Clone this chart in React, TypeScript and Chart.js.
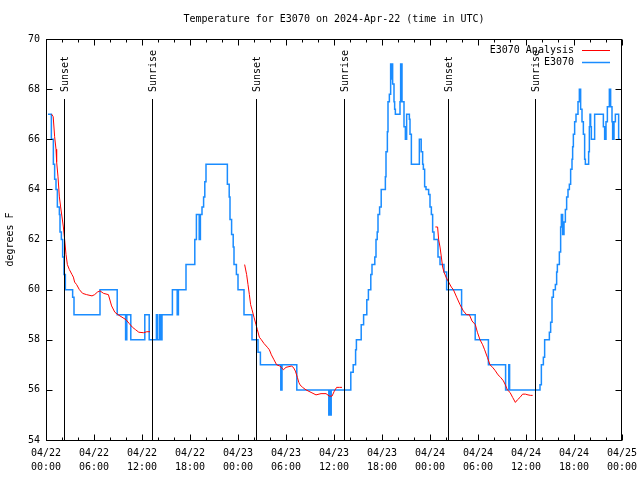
import React, { useEffect, useRef } from "react";
import { Chart, registerables } from "chart.js";

Chart.register(...registerables);

const TITLE = "Temperature for E3070 on 2024-Apr-22 (time in UTC)";
const Y_LABEL = "degrees F";
const SERIES_ANALYSIS = "E3070 Analysis";
const SERIES_OBS = "E3070";

// x axis: hours since 04/22 00:00 UTC
const X_DAYS = ["04/22", "04/22", "04/22", "04/22", "04/23", "04/23", "04/23", "04/23", "04/24", "04/24", "04/24", "04/24", "04/25"];
const X_TIMES = ["00:00", "06:00", "12:00", "18:00", "00:00", "06:00", "12:00", "18:00", "00:00", "06:00", "12:00", "18:00", "00:00"];
const X_MIN = 0;
const X_MAX = 72;
const Y_MIN = 54;
const Y_MAX = 70;

const SUNSET_HOURS = [2.3, 26.3, 50.3];
const SUNRISE_HOURS = [13.25, 37.2, 61.1];

// Observations [hour, °F]
const obsDay1: [number, number][] = [
  [0.25, 67], [0.67, 66], [0.92, 65], [1.08, 64.4], [1.25, 64], [1.42, 63.3], [1.67, 63], [1.75, 62.3],
  [1.92, 62], [2.08, 61.3], [2.25, 60.6], [2.42, 60], [3.33, 59.7], [3.5, 59], [6.75, 60], [8.9, 59],
  [9.95, 58], [10.1, 59], [10.6, 58], [12.35, 59], [12.9, 58], [13.8, 59], [13.95, 58], [14.2, 59],
  [14.35, 58], [14.5, 59], [15.8, 60], [16.4, 59], [16.55, 60], [17.5, 61], [18.6, 62], [18.8, 63],
  [19.15, 62], [19.3, 63], [19.5, 63.3], [19.7, 63.7], [19.85, 64.3], [20.0, 65], [22.67, 64.2],
  [22.9, 63.7], [23.0, 62.8], [23.2, 62.2], [23.4, 61.7], [23.5, 61], [23.8, 60.6], [24.0, 60],
];
const obsDay2: [number, number][] = [
  [24.75, 59], [25.75, 58], [26.5, 57.5], [26.8, 57], [29.35, 56], [29.5, 57], [31.35, 56],
  [35.35, 55], [35.45, 56], [35.55, 55], [35.65, 56], [38.1, 56.7], [38.4, 57], [38.7, 57.6],
  [38.8, 58], [39.4, 58.6], [39.7, 59], [40.1, 59.6], [40.3, 60], [40.6, 60.6], [40.75, 61],
  [41.1, 61.3], [41.25, 62], [41.4, 62.3], [41.5, 63], [41.7, 63.3], [41.9, 64], [42.42, 64.5],
  [42.5, 65.5], [42.67, 66.3], [42.75, 67.5], [42.92, 67.8], [43.08, 69], [43.17, 68.4], [43.25, 69],
  [43.33, 68.2], [43.5, 67.5], [43.58, 67.2], [43.67, 67], [44.25, 67.5], [44.33, 69], [44.5, 67.5],
  [44.75, 66.5], [44.92, 66], [45.08, 67], [45.42, 66.8], [45.5, 66.2], [45.67, 65], [46.67, 66],
  [46.9, 65.5], [47.08, 65], [47.17, 64.8], [47.33, 64.1], [47.5, 64], [47.83, 63.8], [48.0, 63.3],
  [48.17, 63], [48.33, 62.3], [48.5, 62],
];
const obsDay3: [number, number][] = [
  [49.0, 61.3], [49.25, 61], [49.75, 60.7], [50.08, 60], [51.95, 59], [53.65, 58], [55.3, 57],
  [57.45, 56], [57.85, 57], [57.95, 56], [61.75, 56.2], [61.92, 57], [62.17, 57.3], [62.33, 58],
  [62.92, 58.3], [63.08, 58.7], [63.25, 59.7], [63.42, 60], [63.67, 60.2], [63.83, 60.7], [63.92, 61],
  [64.17, 61.5], [64.33, 62.5], [64.42, 63], [64.58, 62.2], [64.75, 62.7], [64.92, 63.2], [65.08, 63.7],
  [65.25, 64], [65.42, 64.2], [65.58, 64.8], [65.75, 65.2], [65.83, 65.7], [65.92, 66.2], [66.08, 66.7],
  [66.25, 67], [66.5, 67.5], [66.67, 68], [66.83, 67.2], [67.0, 66.7], [67.17, 66.2], [67.33, 65.2],
  [67.42, 65], [67.83, 65.5], [67.92, 66.5], [68.0, 67], [68.08, 66.5], [68.17, 66], [68.58, 67],
  [69.67, 66.5], [69.83, 66], [70.0, 66.7], [70.17, 67.3], [70.42, 68], [70.58, 67.3], [70.75, 66.7],
  [70.83, 66], [71.0, 66.7], [71.17, 67], [71.58, 66], [71.75, 66],
];

// Analysis [hour, °F], one segment per night
const anaNight1: [number, number][] = [
  [0.7, 67.0], [0.9, 66.9], [1.08, 66.1], [1.25, 65.6], [1.33, 65.1], [1.5, 64.5], [1.67, 63.7],
  [1.83, 63.3], [2.0, 62.9], [2.17, 62.5], [2.33, 62.0], [2.5, 61.4], [2.67, 61.0], [2.92, 60.8],
  [3.25, 60.6], [3.42, 60.5], [3.58, 60.3], [3.83, 60.2], [4.17, 60.0], [4.58, 59.85], [5.08, 59.8],
  [5.75, 59.75], [6.08, 59.8], [6.42, 59.9], [6.75, 59.95], [7.2, 59.85], [7.8, 59.8], [8.2, 59.35],
  [8.6, 59.1], [9.0, 59.0], [9.5, 58.9], [10.0, 58.8], [10.4, 58.65], [10.8, 58.5], [11.2, 58.4],
  [11.6, 58.3], [12.2, 58.28], [12.6, 58.32], [13.0, 58.32],
];
const anaNight2: [number, number][] = [
  [24.83, 61.0], [25.08, 60.6], [25.25, 60.2], [25.42, 59.8], [25.58, 59.4], [25.75, 59.2], [26.0, 58.9],
  [26.25, 58.6], [26.42, 58.4], [26.67, 58.1], [26.92, 58.0], [27.25, 57.85], [27.67, 57.7], [27.92, 57.6],
  [28.17, 57.4], [28.5, 57.2], [28.83, 57.0], [29.17, 56.96], [29.42, 56.9], [29.67, 56.8], [30.0, 56.9],
  [30.67, 56.95], [30.92, 56.9], [31.17, 56.75], [31.42, 56.5], [31.6, 56.3], [31.75, 56.2], [32.08, 56.1],
  [32.5, 56.0], [33.13, 55.9], [33.75, 55.8], [34.38, 55.85], [35.0, 55.85], [35.42, 55.75], [35.75, 55.75],
  [36.04, 55.95], [36.33, 56.1], [36.67, 56.1], [37.0, 56.1],
];
const anaNight3: [number, number][] = [
  [48.67, 62.5], [48.95, 62.5], [49.08, 62.0], [49.25, 61.7], [49.42, 61.3], [49.58, 60.9], [49.75, 60.7],
  [50.0, 60.5], [50.33, 60.3], [50.67, 60.1], [50.92, 60.0], [51.33, 59.7], [51.75, 59.4], [52.17, 59.15],
  [52.58, 59.0], [52.92, 59.0], [53.25, 58.75], [53.67, 58.6], [53.92, 58.3], [54.25, 58.0], [54.58, 57.8],
  [54.83, 57.6], [55.17, 57.3], [55.5, 57.0], [55.83, 56.9], [56.17, 56.76], [56.5, 56.6], [56.83, 56.5],
  [57.17, 56.36], [57.42, 56.2], [57.67, 56.0], [58.0, 55.9], [58.33, 55.7], [58.67, 55.5], [58.92, 55.6],
  [59.25, 55.7], [59.58, 55.83], [59.92, 55.83], [60.25, 55.8], [60.58, 55.78], [60.83, 55.78],
];

const FONT = "DejaVu Sans Mono";
const RED = "#ff0000";
const BLUE = "#1a8cff";

function toPoints(segments: [number, number][][]) {
  const pts: { x: number; y: number | null }[] = [];
  segments.forEach((seg, i) => {
    if (i > 0) pts.push({ x: seg[0][0] - 0.01, y: null });
    seg.forEach(([h, t]) => pts.push({ x: h, y: t }));
  });
  return pts;
}

const decorPlugin = {
  id: "decor",
  afterDatasetsDraw(chart: any) {
    const { ctx, chartArea, scales } = chart;
    const x = scales.x;
    ctx.save();
    ctx.strokeStyle = "#000";
    ctx.lineWidth = 1;
    ctx.fillStyle = "#000";
    ctx.font = `10px ${FONT}`;
    const drawSun = (hours: number[], label: string) => {
      hours.forEach((h) => {
        const px = Math.round(x.getPixelForValue(h)) + 0.5;
        ctx.beginPath();
        ctx.moveTo(px, 99);
        ctx.lineTo(px, chartArea.bottom);
        ctx.stroke();
        ctx.save();
        ctx.translate(px + 1, 92);
        ctx.rotate(-Math.PI / 2);
        ctx.textAlign = "left";
        ctx.textBaseline = "middle";
        ctx.fillText(label, 0, 0);
        ctx.restore();
      });
    };
    drawSun(SUNSET_HOURS, "Sunset");
    drawSun(SUNRISE_HOURS, "Sunrise");
    ctx.restore();
  },
  afterDraw(chart: any) {
    const { ctx, chartArea, scales } = chart;
    const { left, right, top, bottom } = chartArea;
    const x = scales.x;
    const y = scales.y;
    ctx.save();
    ctx.strokeStyle = "#000";
    ctx.fillStyle = "#000";
    ctx.lineWidth = 1;
    const L = Math.round(left) + 0.5;
    const R = Math.round(right) - 0.5;
    const T = Math.round(top) + 0.5;
    const B = Math.round(bottom) + 0.5;
    ctx.strokeRect(L, T, R - L, B - T);
    // x ticks every 2 h, major every 6 h
    ctx.beginPath();
    for (let h = X_MIN; h <= X_MAX; h += 2) {
      const px = Math.round(x.getPixelForValue(h)) + 0.5;
      const len = h % 6 === 0 ? 6 : 3;
      ctx.moveTo(px, B);
      ctx.lineTo(px, B - len);
      ctx.moveTo(px, T);
      ctx.lineTo(px, T + len);
    }
    for (let v = Y_MIN; v <= Y_MAX; v += 2) {
      const py = Math.round(y.getPixelForValue(v)) + 0.5;
      ctx.moveTo(L, py);
      ctx.lineTo(L + 6, py);
      ctx.moveTo(R, py);
      ctx.lineTo(R - 6, py);
    }
    ctx.stroke();

    ctx.font = `10px ${FONT}`;
    // title
    ctx.textAlign = "center";
    ctx.textBaseline = "middle";
    ctx.fillText(TITLE, (left + right) / 2, 19);
    // y label
    ctx.save();
    ctx.translate(10, (top + bottom) / 2);
    ctx.rotate(-Math.PI / 2);
    ctx.fillText(Y_LABEL, 0, 0);
    ctx.restore();
    // legend
    const items = [
      { label: SERIES_ANALYSIS, color: RED, w: 1 },
      { label: SERIES_OBS, color: BLUE, w: 1.5 },
    ];
    items.forEach((it, i) => {
      const yy = 50 + i * 12;
      ctx.textAlign = "right";
      ctx.fillStyle = "#000";
      ctx.fillText(it.label, 574, yy);
      ctx.strokeStyle = it.color;
      ctx.lineWidth = it.w;
      ctx.beginPath();
      ctx.moveTo(582, yy + 0.5);
      ctx.lineTo(610, yy + 0.5);
      ctx.stroke();
    });
    ctx.restore();
  },
};

export default function App() {
  const ref = useRef<HTMLCanvasElement | null>(null);
  useEffect(() => {
    if (!ref.current) return;
    const chart = new Chart(ref.current, {
      type: "line",
      data: {
        datasets: [
          {
            label: SERIES_ANALYSIS,
            data: toPoints([anaNight1, anaNight2, anaNight3]) as any,
            borderColor: RED,
            borderWidth: 1,
            pointRadius: 0,
            spanGaps: false,
            tension: 0,
            order: 0,
          },
          {
            label: SERIES_OBS,
            data: toPoints([obsDay1, obsDay2, obsDay3]).filter((p) => p.y !== null) as any,
            borderColor: BLUE,
            borderWidth: 1.5,
            pointRadius: 0,
            stepped: "before",
            order: 1,
          },
        ],
      },
      options: {
        responsive: false,
        animation: false,
        events: [],
        layout: { padding: { top: 39, right: 18, left: 0, bottom: 0 } },
        plugins: { legend: { display: false }, title: { display: false }, tooltip: { enabled: false } },
        scales: {
          x: {
            type: "linear",
            min: X_MIN,
            max: X_MAX,
            grid: { display: false, drawTicks: false },
            border: { display: false },
            afterFit: (s: any) => {
              s.height = 40;
              s.paddingLeft = 0;
              s.paddingRight = 0;
            },
            afterBuildTicks: (s: any) => {
              s.ticks = X_DAYS.map((_, i) => ({ value: i * 6 }));
            },
            ticks: {
              autoSkip: false,
              maxRotation: 0,
              minRotation: 0,
              padding: 6,
              color: "#000",
              font: { family: FONT, size: 10, lineHeight: 1.4 },
              callback: (v: any) => {
                const i = Math.round(Number(v) / 6);
                return [X_DAYS[i], X_TIMES[i]];
              },
            },
          },
          y: {
            min: Y_MIN,
            max: Y_MAX,
            grid: { display: false, drawTicks: false },
            border: { display: false },
            afterFit: (s: any) => {
              s.width = 46;
              s.paddingTop = 0;
              s.paddingBottom = 0;
            },
            ticks: {
              stepSize: 2,
              padding: 6,
              color: "#000",
              font: { family: FONT, size: 10 },
            },
          },
        },
      },
      plugins: [decorPlugin],
    });
    return () => chart.destroy();
  }, []);
  return (
    <div style={{ position: "absolute", left: 0, top: 0, width: 640, height: 480, background: "#fff" }}>
      <canvas ref={ref} width={640} height={480} style={{ display: "block" }} />
    </div>
  );
}
